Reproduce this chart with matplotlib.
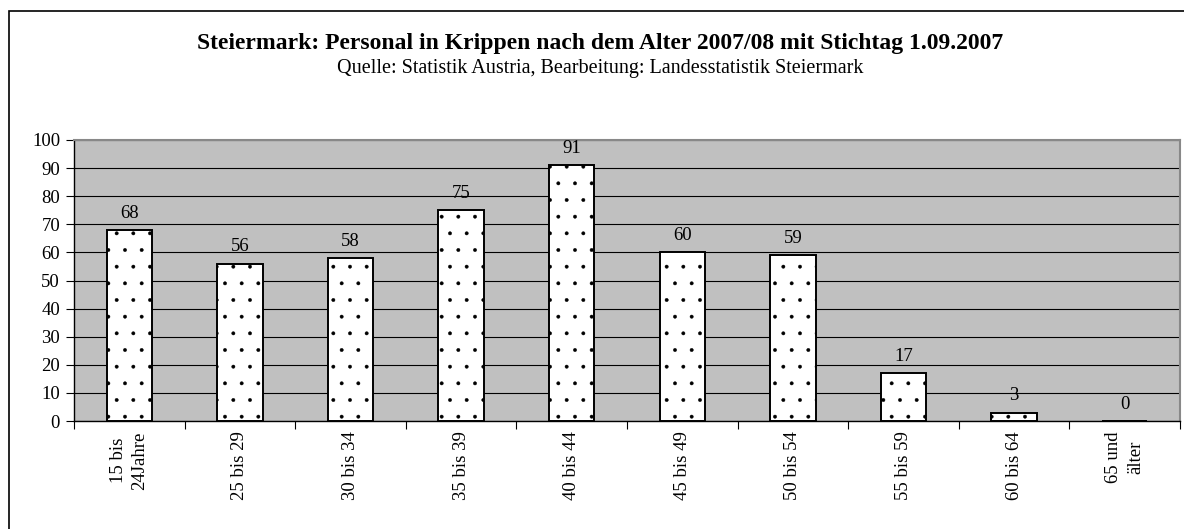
import matplotlib.pyplot as plt
from matplotlib.patches import Rectangle

# Data
categories = ['15 bis\n24Jahre', '25 bis 29', '30 bis 34', '35 bis 39', '40 bis 44',
              '45 bis 49', '50 bis 54', '55 bis 59', '60 bis 64', '65 und\nälter']
values = [68, 56, 58, 75, 91, 60, 59, 17, 3, 0]

title = 'Steiermark: Personal in Krippen nach dem Alter 2007/08 mit Stichtag 1.09.2007'
subtitle = 'Quelle: Statistik Austria, Bearbeitung: Landesstatistik Steiermark'

plt.rcParams['font.family'] = 'Liberation Serif'
plt.rcParams['hatch.linewidth'] = 0.3

fig = plt.figure(figsize=(11.84, 5.29), dpi=100)
ax = fig.add_axes([74 / 1184, 1 - 421 / 529, 1106 / 1184, 281 / 529])

# outer frame of the chart object
fig.patches.append(Rectangle((9 / 1184, -0.05), 1.2, 1.05 - 11 / 529,
                             transform=fig.transFigure, fill=False,
                             edgecolor='black', lw=1.2))

ax.set_facecolor('#c0c0c0')
x = list(range(len(categories)))
ax.bar(x, values, width=0.41, color='white', edgecolor='black', lw=1.4,
       hatch='.', zorder=3)

for xi, v in zip(x, values):
    ax.annotate(str(v), (xi, v), xytext=(0, 6), textcoords='offset points',
                ha='center', va='bottom', fontsize=13.5)

ax.set_xlim(-0.5, len(categories) - 0.5)
ax.set_ylim(0, 100)
ax.set_yticks(range(0, 101, 10))
ax.yaxis.grid(True, color='black', lw=0.8, zorder=1)
ax.set_axisbelow(True)

# x ticks at category boundaries, labels centered in categories
ax.set_xticks([i - 0.5 for i in range(len(categories) + 1)])
ax.set_xticklabels([])
ax.set_xticks(x, minor=True)
ax.set_xticklabels(categories, minor=True, rotation=90, fontsize=13.5,
                   multialignment='center', linespacing=1.35)
ax.tick_params(axis='x', which='minor', length=0, pad=7.5)
ax.tick_params(axis='x', which='major', length=6, direction='out')
ax.tick_params(axis='y', length=6, labelsize=13.5, pad=4)

for s in ['top', 'right']:
    ax.spines[s].set_color('#888888')
    ax.spines[s].set_linewidth(1.5)
for s in ['left', 'bottom']:
    ax.spines[s].set_color('black')
    ax.spines[s].set_linewidth(1.0)

fig.text(0.507, 1 - 44 / 529, title, ha='center', va='center',
         fontsize=17, fontweight='bold')
fig.text(0.507, 1 - 69 / 529, subtitle, ha='center', va='center', fontsize=14.5)

fig.savefig('out.png', dpi=100)
